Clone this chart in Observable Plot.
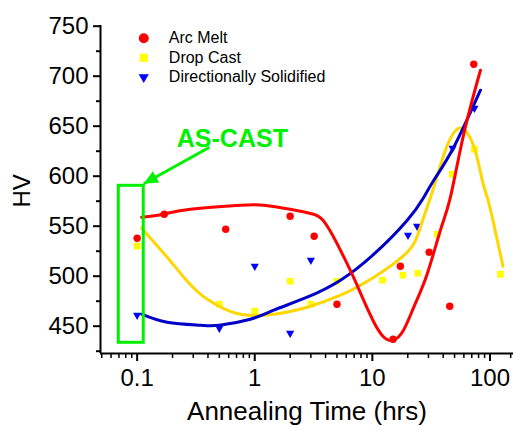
<!DOCTYPE html>
<html>
<head>
<meta charset="utf-8">
<script src="https://cdn.jsdelivr.net/npm/d3@7"></script>
<script src="https://cdn.jsdelivr.net/npm/@observablehq/plot@0.6"></script>
<style>
  html, body { margin: 0; padding: 0; background: #fff; }
  #chart svg { display: block; }
</style>
</head>
<body>
<div id="chart"></div>
<script>
// ---------- data ----------
const seriesNames = ["Arc Melt", "Drop Cast", "Directionally Solidified"];

const arcX = [0.1, 0.17, 0.566, 2.0, 3.2, 5.0, 15.0, 17.3, 30.4, 45.5, 72.8];
const arcY = [538, 562, 547, 560, 540, 472, 437, 510, 524, 470, 712];

const dropX = [0.1, 0.5, 1.0, 2.0, 3.0, 5.0, 12.2, 18.2, 24.3, 35.6, 47.7, 73.8, 122.7];
const dropY = [530, 472, 465, 495, 472, 495, 496, 501, 503, 542, 602, 627, 502];

const dirX = [0.1, 0.5, 1.0, 2.0, 3.0, 20.1, 24.0, 48.1, 73.8];
const dirY = [461, 448, 510, 443, 516, 541, 550, 628, 668];

// fitted curves
const arcFitX = [0.109, 0.167, 0.284, 0.755, 1.2, 2.0, 3.16, 3.86, 4.69, 5.73, 6.97, 8.42, 10.2, 12.3, 15.0, 18.4, 22.5, 29.2, 37.9, 46.1, 59.8, 83];
const arcFitY = [559, 562, 567, 571, 571, 567, 562, 555, 539, 519, 498, 476, 455, 440, 436, 446, 469, 502, 546, 579, 642, 706];

const dropFitX = [0.109, 0.18, 0.249, 0.345, 0.479, 0.755, 1.45, 2.79, 5.36, 10.3, 19.8, 25.6, 33.3, 40.4, 54.3, 73.2, 85.9, 94.6, 107.7, 129];
const dropFitY = [548, 519, 499, 482, 471, 462, 462, 469, 481, 499, 524, 549, 589, 621, 648, 629, 596, 579, 552, 510];

const dirFitX = [0.109, 0.18, 0.345, 0.5, 0.918, 1.45, 2.79, 5.36, 10.3, 19.8, 27.4, 33.3, 49.2, 83];
const dirFitY = [462, 454, 451, 451, 457, 466, 479, 496, 522, 556, 579, 596, 629, 686];

// axes
const xDomain = [0.0488, 158.5];
const yDomain = [422.7, 750.7];
const xMajor = [0.1, 1, 10, 100];
const xMinor = [0.05, 0.06, 0.07, 0.08, 0.09, 0.2, 0.3, 0.4, 0.5, 0.6, 0.7, 0.8, 0.9,
                2, 3, 4, 5, 6, 7, 8, 9, 20, 30, 40, 50, 60, 70, 80, 90, 150];
const yMajor = [450, 500, 550, 600, 650, 700, 750];
const yMinor = [425, 475, 525, 575, 625, 675, 725];

// legend placement (data coordinates)
const legendSymX = 0.1138;
const legendTextX = 0.186;
const legendY = [738, 718.4, 699];

// annotation
const annText = "AS-CAST";
const annTextPos = [0.645, 637.7];
const annBox = {x1: 0.0698, x2: 0.1138, y1: 433.4, y2: 590.4};
const annArrow = {x1: 0.412, y1: 629, x2: 0.1138, y2: 592.4};

// ---------- build ----------
const zip = (xs, ys) => xs.map((x, i) => ({x, y: ys[i]}));
const arcPts = zip(arcX, arcY), dropPts = zip(dropX, dropY), dirPts = zip(dirX, dirY);
const arcFit = zip(arcFitX, arcFitY), dropFit = zip(dropFitX, dropFitY), dirFit = zip(dirFitX, dirFitY);

const RED = "#ff0000", YEL = "#ffff00", YEL_LINE = "#ffd700", BLUE = "#0000ff", BLUE_LINE = "#0000c8", GREEN = "#00f000";

const triDown = {
  draw(context, size) {
    const w = Math.sqrt(size) * 1.15, h = w * 0.866;
    context.moveTo(-w / 2, -h / 3);
    context.lineTo(w / 2, -h / 3);
    context.lineTo(0, 2 * h / 3);
    context.closePath();
  }
};
// filled arrow head, tip at the anchor
const arrowHead = {
  draw(context) {
    const dx = -0.871, dy = 0.491, L = 14, W = 6.5;
    const bx = -L * dx, by = -L * dy, px = -dy, py = dx;
    context.moveTo(0, 0);
    context.lineTo(bx + W * px, by + W * py);
    context.lineTo(bx - W * px, by - W * py);
    context.closePath();
  }
};

const legendData = seriesNames.map((name, i) => ({name, y: legendY[i]}));
const font = "'Liberation Sans', Arial, Helvetica, sans-serif";

const chart = Plot.plot({
  width: 513,
  height: 434,
  marginLeft: 100,
  marginRight: 0,
  marginTop: 25,
  marginBottom: 81,
  style: {fontFamily: font, color: "#000", background: "#fff", overflow: "visible"},
  x: {type: "log", domain: xDomain, range: [100, 513], axis: null},
  y: {domain: yDomain, range: [353, 25], axis: null},
  marks: [
    // axes
    Plot.axisX(xMinor, {tickSize: 5, strokeWidth: 1.5, tickFormat: () => "", stroke: "#000"}),
    Plot.axisX(xMajor, {tickSize: 8, tickPadding: 7, strokeWidth: 2, fontSize: 24, stroke: "#000", fill: "#000",
      tickFormat: d => String(d)}),
    Plot.axisY(yMinor, {tickSize: 4, strokeWidth: 2, tickFormat: () => "", stroke: "#000"}),
    Plot.axisY(yMajor, {tickSize: 7, tickPadding: 5, strokeWidth: 2, fontSize: 24, stroke: "#000", fill: "#000",
      tickFormat: d => String(d)}),
    Plot.ruleX([xDomain[0]], {stroke: "#000", strokeWidth: 2}),
    Plot.ruleY([yDomain[0]], {stroke: "#000", strokeWidth: 2}),

    // axis titles
    Plot.text(["Annealing Time (hrs)"], {frameAnchor: "bottom", dy: 66, fontSize: 26, fill: "#000", text: d => d}),
    Plot.text(["HV"], {frameAnchor: "left", dx: -78, dy: 18, rotate: -90, fontSize: 24, fill: "#000", text: d => d}),

    // data points
    Plot.dot(arcPts, {x: "x", y: "y", r: 3.7, fill: RED, symbol: "circle"}),
    Plot.dot(dropPts, {x: "x", y: "y", r: 3.8, fill: YEL, symbol: "square"}),
    Plot.dot(dirPts, {x: "x", y: "y", r: 4, fill: BLUE, symbol: triDown}),

    // fitted curves
    Plot.line(dropFit, {x: "x", y: "y", stroke: YEL_LINE, strokeWidth: 3, curve: "natural"}),
    Plot.line(dirFit, {x: "x", y: "y", stroke: BLUE_LINE, strokeWidth: 3, curve: "natural"}),
    Plot.line(arcFit, {x: "x", y: "y", stroke: RED, strokeWidth: 3, curve: "natural"}),

    // legend
    Plot.dot([legendData[0]], {x: () => legendSymX, y: "y", r: 5, fill: RED, symbol: "circle"}),
    Plot.dot([legendData[1]], {x: () => legendSymX, y: "y", r: 4.6, fill: YEL, symbol: "square"}),
    Plot.dot([legendData[2]], {x: () => legendSymX, y: "y", r: 5, fill: BLUE, symbol: triDown}),
    Plot.text(legendData, {x: () => legendTextX, y: "y", text: "name", textAnchor: "start", fontSize: 16, fill: "#000"}),

    // annotation
    Plot.rect([annBox], {x1: "x1", x2: "x2", y1: "y1", y2: "y2", fill: "none", stroke: GREEN, strokeWidth: 3}),
    Plot.link([annArrow], {x1: "x1", y1: "y1", x2: "x2", y2: "y2", stroke: GREEN, strokeWidth: 3}),
    Plot.dot([annArrow], {x: "x2", y: "y2", r: 5, fill: GREEN, stroke: "none", symbol: arrowHead}),
    Plot.text([annText], {x: () => annTextPos[0], y: () => annTextPos[1], text: d => d, fontSize: 25, fontWeight: "bold", fill: GREEN})
  ]
});
document.getElementById("chart").appendChild(chart);
</script>
</body>
</html>
